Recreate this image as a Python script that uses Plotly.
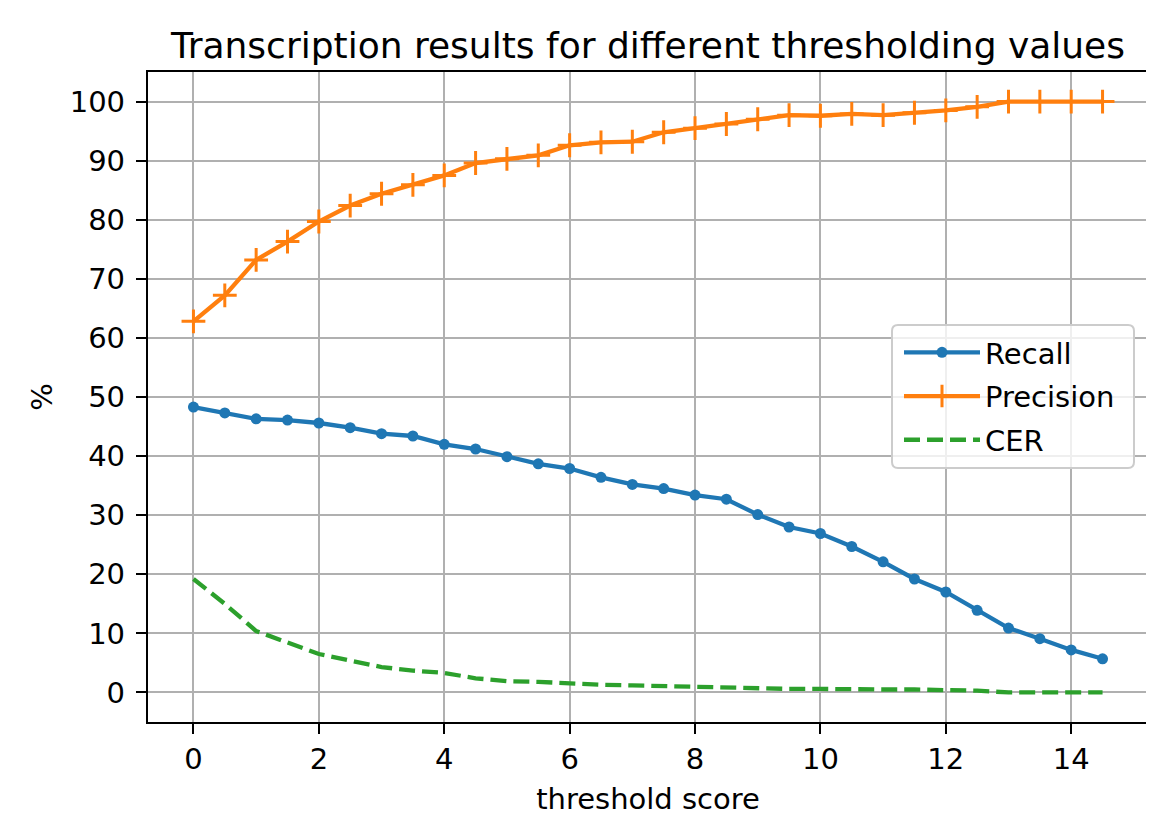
import plotly.graph_objects as go

threshold = [0, 0.5, 1, 1.5, 2, 2.5, 3, 3.5, 4, 4.5, 5, 5.5, 6, 6.5, 7, 7.5,
             8, 8.5, 9, 9.5, 10, 10.5, 11, 11.5, 12, 12.5, 13, 13.5, 14, 14.5]
recall = [48.3, 47.3, 46.3, 46.1, 45.6, 44.8, 43.8, 43.4, 42.0, 41.2, 39.9, 38.7,
          37.9, 36.4, 35.2, 34.5, 33.4, 32.7, 30.1, 28.0, 26.9, 24.7, 22.1, 19.2,
          17.0, 13.9, 10.9, 9.1, 7.2, 5.7]
precision = [62.8, 67.2, 73.2, 76.3, 79.7, 82.4, 84.4, 85.9, 87.5, 89.6, 90.3, 90.9,
             92.6, 93.1, 93.2, 94.8, 95.5, 96.2, 97.0, 97.7, 97.6, 97.9, 97.7, 98.1,
             98.5, 99.1, 100.0, 100.0, 100.0, 100.0]
cer = [19.2, 15.0, 10.4, 8.4, 6.5, 5.4, 4.3, 3.7, 3.3, 2.4, 1.9, 1.8,
       1.5, 1.3, 1.2, 1.05, 0.9, 0.8, 0.7, 0.6, 0.6, 0.5, 0.5, 0.5,
       0.4, 0.3, 0.0, 0.0, 0.0, 0.0]

x_ticks = [0, 2, 4, 6, 8, 10, 12, 14]
y_ticks = [0, 10, 20, 30, 40, 50, 60, 70, 80, 90, 100]

FONT = "DejaVu Sans"
# page body has an 8px margin; figure sized so it ends at the window edge
W, H = 1146, 819
ML, MR, MT, MB = 140, 6, 64, 105
PW, PH = W - ML - MR, H - MT - MB


def px_to_paper(px, py):
    # px, py in window pixels
    return (px - 8 - ML) / PW, 1 - (py - 8 - MT) / PH


fig = go.Figure()
fig.add_trace(go.Scatter(
    x=threshold, y=recall, name="Recall", mode="lines+markers", legendgroup="a",
    line=dict(color="#1f77b4", width=4.3),
    marker=dict(symbol="circle", size=11, color="#1f77b4")))
fig.add_trace(go.Scatter(
    x=threshold, y=precision, name="Precision", mode="lines+markers", legendgroup="b",
    line=dict(color="#ff7f0e", width=4.3),
    marker=dict(symbol="cross-thin", size=17, color="#ff7f0e",
                line=dict(color="#ff7f0e", width=3))))
fig.add_trace(go.Scatter(
    x=threshold, y=cer, name="CER", mode="lines", legendgroup="c",
    line=dict(color="#2ca02c", width=4.3, dash="16px,7px")))

axis_common = dict(
    showline=True, linecolor="black", linewidth=2.3, mirror=True,
    ticks="outside", ticklen=10, tickwidth=2.3, tickcolor="black",
    showgrid=True, gridcolor="#b0b0b0", gridwidth=2,
    zeroline=False, tickfont=dict(family=FONT, size=29, color="black"),
)
fig.update_xaxes(range=[-0.725, 15.225], tickvals=x_ticks,
                 title=dict(text="threshold score", font=dict(family=FONT, size=29, color="black"),
                            standoff=14),
                 **axis_common)
fig.update_yaxes(range=[-5, 105], tickvals=y_ticks, ticklabelstandoff=5,
                 title=dict(text="%", font=dict(family=FONT, size=29, color="black"),
                            standoff=9),
                 **axis_common)

# legend frame (rounded box) drawn as a shape
bx0, by0, bx1, by1, r = 892, 325, 1134, 468, 6
def P(x, y):
    u, v = px_to_paper(x, y)
    return f"{u:.5f},{v:.5f}"
path = (f"M{P(bx0 + r, by0)} L{P(bx1 - r, by0)} Q{P(bx1, by0)} {P(bx1, by0 + r)} "
        f"L{P(bx1, by1 - r)} Q{P(bx1, by1)} {P(bx1 - r, by1)} "
        f"L{P(bx0 + r, by1)} Q{P(bx0, by1)} {P(bx0, by1 - r)} "
        f"L{P(bx0, by0 + r)} Q{P(bx0, by0)} {P(bx0 + r, by0)} Z")
fig.add_shape(type="path", path=path, xref="paper", yref="paper", layer="above",
              fillcolor="rgba(255,255,255,0.8)", line=dict(color="#cccccc", width=2))

lx, ly = px_to_paper(899, 327)
fig.update_layout(
    width=W, height=H,
    margin=dict(l=ML, r=MR, t=MT, b=MB, autoexpand=False),
    paper_bgcolor="white", plot_bgcolor="white",
    font=dict(family=FONT, size=29, color="black"),
    title=dict(text="Transcription results for different thresholding values",
               font=dict(family=FONT, size=36, color="black"),
               x=(648 - 8) / W, xanchor="center", y=1 - (45 - 8) / H, yanchor="middle",
               yref="container"),
    legend=dict(x=lx, y=ly, xanchor="left", yanchor="top",
                bgcolor="rgba(0,0,0,0)", borderwidth=0,
                font=dict(family=FONT, size=29, color="black"),
                itemwidth=76, tracegroupgap=3),
    showlegend=True,
)

fig.write_html("out.html")
